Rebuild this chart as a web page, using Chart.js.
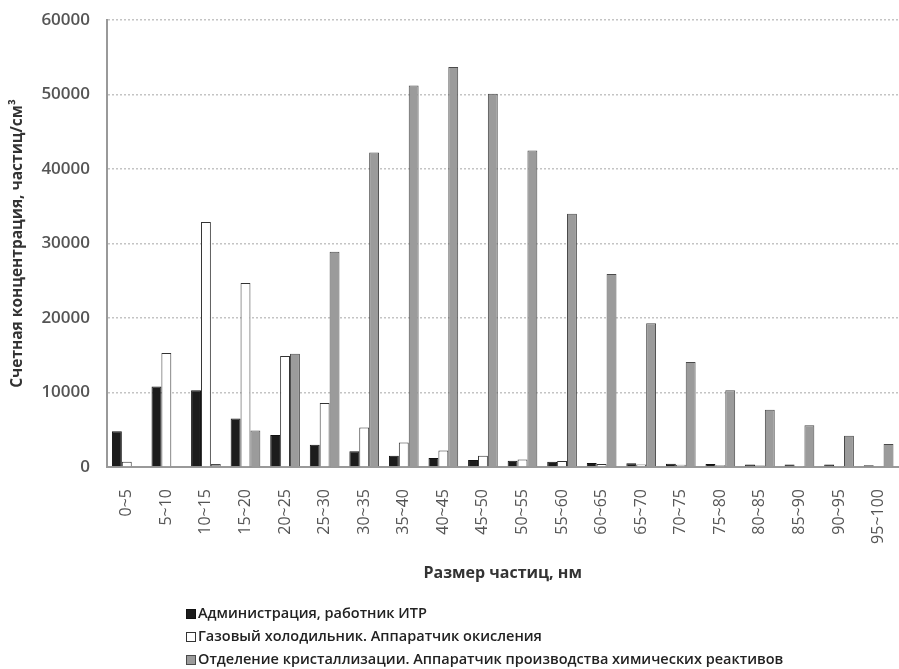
<!DOCTYPE html>
<html>
<head>
<meta charset="utf-8">
<script src="https://cdn.jsdelivr.net/npm/chart.js@4.4.1/dist/chart.umd.min.js"></script>
<style>
  html, body { margin: 0; padding: 0; background: #fff; overflow: hidden; }
  #wrap { width: 920px; height: 669px; }
</style>
</head>
<body>
<div id="wrap"><canvas id="chart" width="920" height="669"></canvas></div>
<script>
// categories (particle size, nm)
const categories = ['0~5', '5~10', '10~15', '15~20', '20~25', '25~30', '30~35', '35~40', '40~45', '45~50',
  '50~55', '55~60', '60~65', '65~70', '70~75', '75~80', '80~85', '85~90', '90~95', '95~100'];

// series values, particles/cm3
const adminValues = [4800, 10800, 10300, 6500, 4300, 3000, 2100, 1500, 1200, 950,
  850, 700, 550, 500, 450, 400, 350, 350, 350, 250];
const coolerValues = [700, 15300, 32900, 24700, 14900, 8600, 5300, 3300, 2200, 1500,
  1000, 800, 400, 350, 300, 250, 200, 150, 150, 100];
const crystalValues = [0, 0, 400, 4900, 15200, 28900, 42200, 51200, 53700, 50100,
  42500, 34000, 25900, 19300, 14100, 10300, 7700, 5600, 4200, 3100];

const seriesNames = [
  'Администрация, работник ИТР',
  'Газовый холодильник. Аппаратчик окисления',
  'Отделение кристаллизации. Аппаратчик производства химических реактивов'
];

const yTicks = [0, 10000, 20000, 30000, 40000, 50000, 60000];

// legend drawn as a vertical list under the chart
const listLegend = {
  id: 'listLegend',
  afterDraw(chart) {
    const ctx = chart.ctx;
    ctx.save();
    ctx.font = '600 14.5px "Open Sans"';
    ctx.textBaseline = 'middle';
    chart.data.datasets.forEach((ds, i) => {
      const y = 614 + i * 23;
      ctx.fillStyle = ds.backgroundColor;
      ctx.fillRect(186, y - 5, 10, 10);
      ctx.strokeStyle = ds.borderColor;
      ctx.lineWidth = 1;
      ctx.strokeRect(186.5, y - 4.5, 9, 9);
      ctx.fillStyle = '#222';
      ctx.fillText(ds.label, 198, y);
    });
    ctx.restore();
  }
};

const ctx = document.getElementById('chart').getContext('2d');
new Chart(ctx, {
  type: 'bar',
  data: {
    labels: categories,
    datasets: [
      { label: seriesNames[0], data: adminValues, backgroundColor: '#1c1c1c', borderColor: '#111', borderWidth: 1 },
      { label: seriesNames[1], data: coolerValues, backgroundColor: '#ffffff', borderColor: '#333', borderWidth: 1 },
      { label: seriesNames[2], data: crystalValues, backgroundColor: '#9b9b9b', borderColor: '#4a4a4a', borderWidth: 1 }
    ]
  },
  options: {
    responsive: false,
    animation: false,
    devicePixelRatio: 1,
    datasets: { bar: { categoryPercentage: 0.75, barPercentage: 1.0 } },
    layout: { padding: { left: 0, right: 7, top: 20, bottom: 80 } },
    plugins: {
      legend: { display: false },
      tooltip: { enabled: false }
    },
    scales: {
      x: {
        grid: { display: false, drawTicks: false },
        border: { display: true, color: '#999', width: 2 },
        ticks: {
          color: '#555',
          font: { family: 'Open Sans', size: 16 },
          minRotation: 90,
          maxRotation: 90,
          padding: 22,
          autoSkip: false
        },
        title: {
          display: true,
          text: 'Размер частиц, нм',
          color: '#333',
          font: { family: 'Open Sans', size: 16, weight: 'bold' },
          padding: { top: 0, bottom: 6 }
        },
        afterFit(scale) { scale.height = 122; }
      },
      y: {
        min: 0,
        max: 60000,
        afterBuildTicks(scale) { scale.ticks = yTicks.map(v => ({ value: v })); },
        grid: { color: '#c4c4c4', lineWidth: 1.5, drawTicks: false },
        border: { display: true, color: '#999', width: 2, dash: [2, 2] },
        ticks: {
          color: '#555',
          font: { family: 'Open Sans', size: 17, weight: '600' },
          padding: 17,
          callback: v => String(v)
        },
        title: {
          display: true,
          text: 'Счетная концентрация, частиц/см³',
          color: '#333',
          font: { family: 'Open Sans', size: 15.5, weight: 'bold' },
          padding: { top: 8, bottom: 0 }
        },
        afterFit(scale) {
          scale.width = 107;
          scale.paddingTop = 0;
          scale.paddingBottom = 0;
        }
      }
    }
  },
  plugins: [listLegend]
});
</script>
</body>
</html>
